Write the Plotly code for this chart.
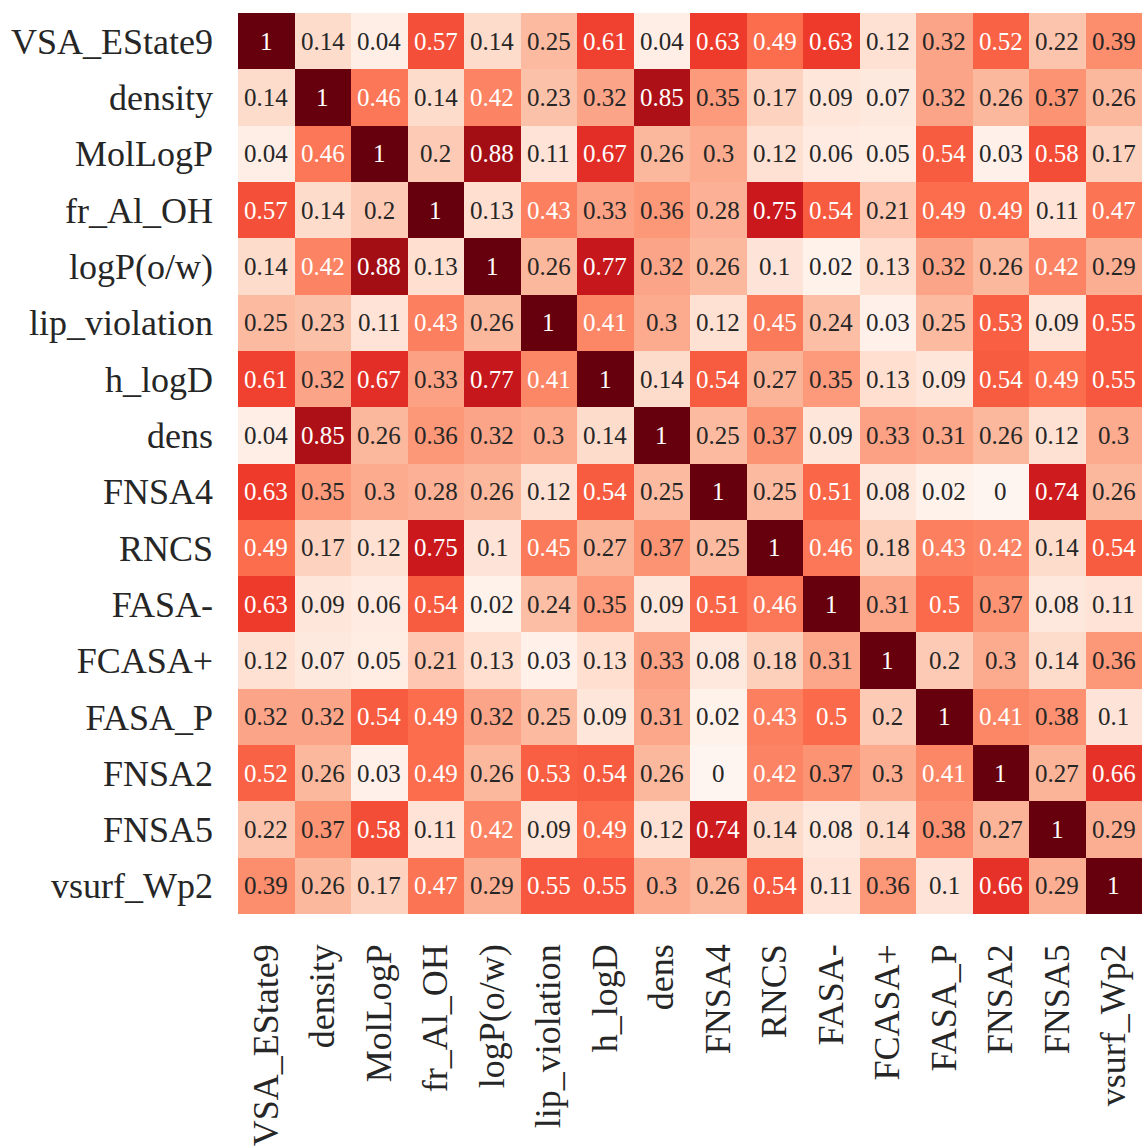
import plotly.graph_objects as go

labels = ["VSA_EState9", "density", "MolLogP", "fr_Al_OH", "logP(o/w)", "lip_violation",
          "h_logD", "dens", "FNSA4", "RNCS", "FASA-", "FCASA+", "FASA_P", "FNSA2",
          "FNSA5", "vsurf_Wp2"]

row_VSA_EState9 = [1, 0.14, 0.04, 0.57, 0.14, 0.25, 0.61, 0.04, 0.63, 0.49, 0.63, 0.12, 0.32, 0.52, 0.22, 0.39]
row_density = [0.14, 1, 0.46, 0.14, 0.42, 0.23, 0.32, 0.85, 0.35, 0.17, 0.09, 0.07, 0.32, 0.26, 0.37, 0.26]
row_MolLogP = [0.04, 0.46, 1, 0.2, 0.88, 0.11, 0.67, 0.26, 0.3, 0.12, 0.06, 0.05, 0.54, 0.03, 0.58, 0.17]
row_fr_Al_OH = [0.57, 0.14, 0.2, 1, 0.13, 0.43, 0.33, 0.36, 0.28, 0.75, 0.54, 0.21, 0.49, 0.49, 0.11, 0.47]
row_logP = [0.14, 0.42, 0.88, 0.13, 1, 0.26, 0.77, 0.32, 0.26, 0.1, 0.02, 0.13, 0.32, 0.26, 0.42, 0.29]
row_lip_violation = [0.25, 0.23, 0.11, 0.43, 0.26, 1, 0.41, 0.3, 0.12, 0.45, 0.24, 0.03, 0.25, 0.53, 0.09, 0.55]
row_h_logD = [0.61, 0.32, 0.67, 0.33, 0.77, 0.41, 1, 0.14, 0.54, 0.27, 0.35, 0.13, 0.09, 0.54, 0.49, 0.55]
row_dens = [0.04, 0.85, 0.26, 0.36, 0.32, 0.3, 0.14, 1, 0.25, 0.37, 0.09, 0.33, 0.31, 0.26, 0.12, 0.3]
row_FNSA4 = [0.63, 0.35, 0.3, 0.28, 0.26, 0.12, 0.54, 0.25, 1, 0.25, 0.51, 0.08, 0.02, 0, 0.74, 0.26]
row_RNCS = [0.49, 0.17, 0.12, 0.75, 0.1, 0.45, 0.27, 0.37, 0.25, 1, 0.46, 0.18, 0.43, 0.42, 0.14, 0.54]
row_FASA_minus = [0.63, 0.09, 0.06, 0.54, 0.02, 0.24, 0.35, 0.09, 0.51, 0.46, 1, 0.31, 0.5, 0.37, 0.08, 0.11]
row_FCASA_plus = [0.12, 0.07, 0.05, 0.21, 0.13, 0.03, 0.13, 0.33, 0.08, 0.18, 0.31, 1, 0.2, 0.3, 0.14, 0.36]
row_FASA_P = [0.32, 0.32, 0.54, 0.49, 0.32, 0.25, 0.09, 0.31, 0.02, 0.43, 0.5, 0.2, 1, 0.41, 0.38, 0.1]
row_FNSA2 = [0.52, 0.26, 0.03, 0.49, 0.26, 0.53, 0.54, 0.26, 0, 0.42, 0.37, 0.3, 0.41, 1, 0.27, 0.66]
row_FNSA5 = [0.22, 0.37, 0.58, 0.11, 0.42, 0.09, 0.49, 0.12, 0.74, 0.14, 0.08, 0.14, 0.38, 0.27, 1, 0.29]
row_vsurf_Wp2 = [0.39, 0.26, 0.17, 0.47, 0.29, 0.55, 0.55, 0.3, 0.26, 0.54, 0.11, 0.36, 0.1, 0.66, 0.29, 1]

z = [row_VSA_EState9, row_density, row_MolLogP, row_fr_Al_OH, row_logP, row_lip_violation,
     row_h_logD, row_dens, row_FNSA4, row_RNCS, row_FASA_minus, row_FCASA_plus, row_FASA_P,
     row_FNSA2, row_FNSA5, row_vsurf_Wp2]

reds = [[0.0, "rgb(255,245,240)"], [0.125, "rgb(254,224,210)"], [0.25, "rgb(252,187,161)"],
        [0.375, "rgb(252,146,114)"], [0.5, "rgb(251,106,74)"], [0.625, "rgb(239,59,44)"],
        [0.75, "rgb(203,24,29)"], [0.875, "rgb(165,15,21)"], [1.0, "rgb(103,0,13)"]]

SERIF = "Liberation Serif, Times New Roman, DejaVu Serif, serif"

fig = go.Figure(go.Heatmap(z=z, x=labels, y=labels, colorscale=reds, zmin=0, zmax=1,
                           showscale=False))

annotations = []
for i, rl in enumerate(labels):
    for j, cl in enumerate(labels):
        v = z[i][j]
        annotations.append(dict(x=cl, y=rl, text=f"{v:g}", showarrow=False,
                                font=dict(family=SERIF, size=25,
                                          color="white" if v > 0.40 else "#262626")))

fig.update_layout(
    width=1142, height=1146,
    margin=dict(l=238, r=0, t=13, b=229),
    plot_bgcolor="white", paper_bgcolor="white",
    annotations=annotations,
    font=dict(family=SERIF, size=36, color="#262626"),
)
fig.update_xaxes(tickangle=-90, showgrid=False, zeroline=False, ticks="",
                 ticklabelstandoff=22, tickfont=dict(family=SERIF, size=36, color="#262626"))
fig.update_yaxes(autorange="reversed", showgrid=False, zeroline=False, ticks="",
                 ticklabelstandoff=24, tickfont=dict(family=SERIF, size=36, color="#262626"))

fig.write_html("out.html")
